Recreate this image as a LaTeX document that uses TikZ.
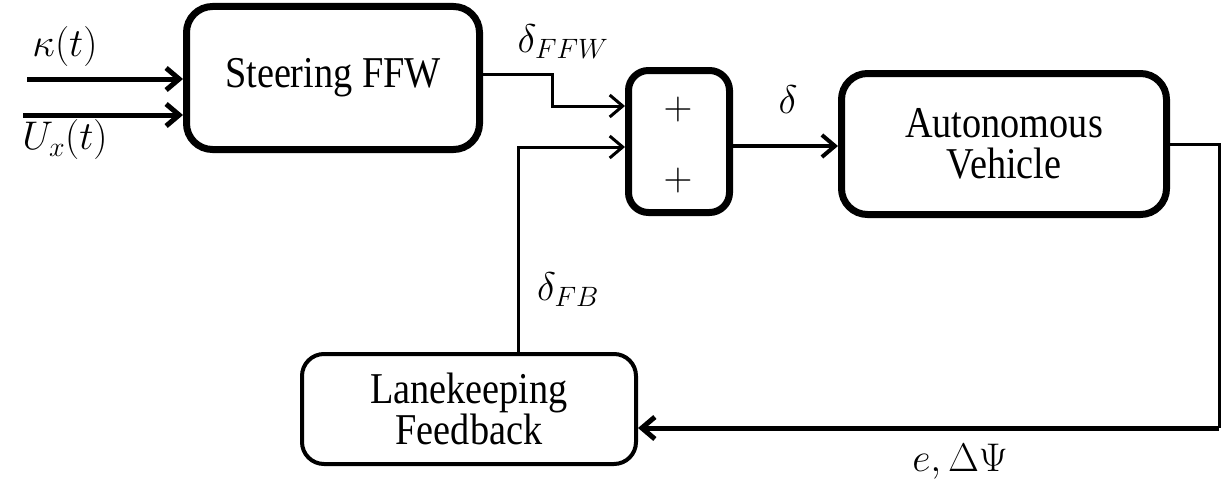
\RequirePackage{fix-cm}
\documentclass[tikz,border=0pt]{standalone}
\usepackage{fontspec}
\setmainfont[FakeStretch=0.87]{Liberation Serif}
\usetikzlibrary{arrows.meta}
\begin{document}
\begin{tikzpicture}[x=1pt,y=-1pt,
  box/.style={draw, line width=7pt, rounded corners=26pt, inner sep=0pt, align=center,
    font=\fontsize{44}{41}\selectfont},
  lbl/.style={inner sep=0pt, font=\fontsize{40}{46}\selectfont},
  arr/.style={-{Straight Barb[length=13pt,width=22pt]}}]
\useasboundingbox (0,0) rectangle (1222,487);
% boxes
\node[box, minimum width=293pt, minimum height=143pt] (steer) at (333,78) {Steering FFW};
\node[box, minimum width=101pt, minimum height=142pt, rounded corners=20pt] (sum) at (679,141.5) {};
\node[box, minimum width=325pt, minimum height=141pt] (av) at (1004,144) {Autonomous\\Vehicle};
\node[box, line width=4pt, rounded corners=22pt, minimum width=334pt, minimum height=110pt] (lk) at (469,409) {Lanekeeping\\Feedback};
% plus signs
\node[lbl] (p1) at (678,110) {$+$};
\node[lbl] (p2) at (678,180) {$+$};
% labels
\node[lbl] (lkappa) at (65,47) {$\kappa(t)$};
\node[lbl] (lux) at (65,140) {$U_x(t)$};
\node[lbl] (lffw) at (563,42) {$\delta_{FFW}$};
\node[lbl] (ldelta) at (788,100) {$\delta$};
\node[lbl] (lfb) at (568,290) {$\delta_{FB}$};
\node[lbl] (lerr) at (960,462) {$e,\Delta\Psi$};
% connectors
\coordinate (kin) at (27,79);
\coordinate (uin) at (23,115);
\draw[arr, line width=5pt] (kin) -- (kin -| steer.west);
\draw[arr, line width=5pt] (uin) -- (uin -| steer.west);
\coordinate (f1) at (552,74);
\coordinate (f2) at (552,106);
\draw[arr, line width=3pt] (steer.east |- f1) -- (f1) -- (f2) -- (f2 -| sum.west);
\coordinate (b1) at (518,147);
\draw[arr, line width=3pt] (lk.north -| b1) -- (b1) -- (b1 -| sum.west);
\coordinate (s1) at (733,146);
\draw[arr, line width=4pt] (sum.east |- s1) -- (s1 -| av.west);
\coordinate (o1) at (1219,144);
\coordinate (o2) at (1219,428);
\draw[line width=3pt] (av.east |- o1) -- (o1) -- (o2);
\draw[arr, line width=5pt] (o2) -- (o2 -| lk.east);
\end{tikzpicture}
\end{document}
